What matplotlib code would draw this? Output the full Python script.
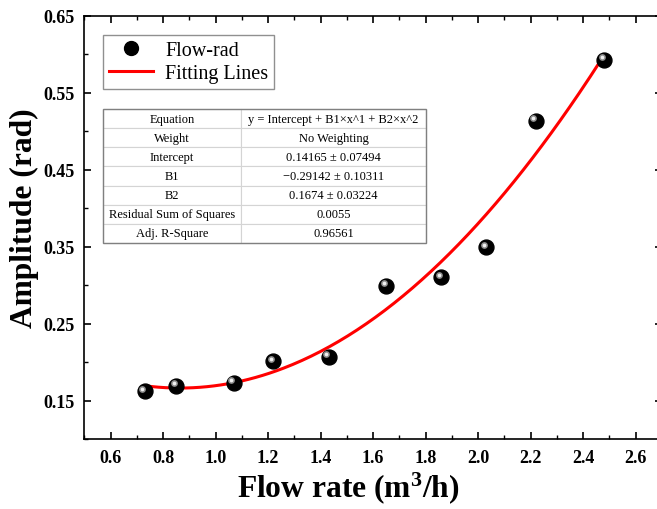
import numpy as np
import matplotlib
matplotlib.use("Agg")
import matplotlib.pyplot as plt
from matplotlib.ticker import MultipleLocator
from matplotlib.transforms import offset_copy
from matplotlib.patches import Rectangle
from matplotlib.lines import Line2D

plt.rcParams['font.family'] = ['Liberation Serif', 'DejaVu Serif']
plt.rcParams['mathtext.fontset'] = 'custom'
plt.rcParams['mathtext.rm'] = 'Liberation Serif'
plt.rcParams['mathtext.bf'] = 'Liberation Serif:bold'
plt.rcParams['mathtext.default'] = 'bf'

# Measured amplitude vs. flow rate
flow_rate = [0.73, 0.85, 1.07, 1.22, 1.43, 1.65, 1.86, 2.03, 2.22, 2.48]
amplitude = [0.162, 0.169, 0.173, 0.201, 0.207, 0.299, 0.310, 0.349, 0.514, 0.593]

# Fit report rows
fit_labels = ["Equation", "Weight", "Intercept", "B1", "B2",
              "Residual Sum of Squares", "Adj. R-Square"]
fit_values = ["y = Intercept + B1\u00d7x^1 + B2\u00d7x^2", "No Weighting",
              "0.14165 \u00b1 0.07494", "\u22120.29142 \u00b1 0.10311",
              "0.1674 \u00b1 0.03224", "0.0055", "0.96561"]

x_ticks = [0.6, 0.8, 1.0, 1.2, 1.4, 1.6, 1.8, 2.0, 2.2, 2.4, 2.6]
y_ticks = [0.15, 0.25, 0.35, 0.45, 0.55, 0.65]

fig = plt.figure(figsize=(6.57, 5.10), dpi=100)
ax = fig.add_axes([0.1283, 0.1373, 0.8793, 0.8294])

# quadratic fit drawn over the measured range
coef = np.polyfit(flow_rate, amplitude, 2)
xs = np.linspace(min(flow_rate), max(flow_rate), 200)
ax.plot(xs, np.polyval(coef, xs), color='red', lw=2.2, zorder=2)

# shaded "sphere" markers: black ball plus a soft highlight
ax.scatter(flow_rate, amplitude, s=115, color='black', zorder=3)
hl = offset_copy(ax.transData, fig=fig, x=-2.5, y=2.5, units='dots')
ax.scatter(flow_rate, amplitude, s=24, color='#8c8c8c', transform=hl,
           zorder=4, linewidths=0)
ax.scatter(flow_rate, amplitude, s=7, color='#f0f0f0', transform=hl,
           zorder=4, linewidths=0)

ax.set_xlim(0.5, 2.7)
ax.set_ylim(0.10, 0.65)
ax.set_xticks(x_ticks)
ax.set_yticks(y_ticks)
ax.xaxis.set_minor_locator(MultipleLocator(0.1))
ax.yaxis.set_minor_locator(MultipleLocator(0.05))
ax.tick_params(which='both', direction='in', top=True, right=True)
ax.tick_params(which='major', length=5, width=1.2, labelsize=13, pad=7)
ax.tick_params(which='minor', length=3, width=1.0)
for lab in ax.get_xticklabels() + ax.get_yticklabels():
    lab.set_fontweight('bold')
for sp in ax.spines.values():
    sp.set_linewidth(1.2)

ax.set_xlabel("Flow rate (m$^3$/h)", fontsize=22.7, fontweight='bold')
ax.set_ylabel("Amplitude (rad)", fontsize=22.7, fontweight='bold')
ax.xaxis.set_label_coords(0.4565, -0.071)
ax.yaxis.set_label_coords(-0.079, 0.5236)

handles = [Line2D([], [], marker='o', ls='none', color='black', markersize=10),
           Line2D([], [], color='red', lw=2.2)]
leg = ax.legend(handles, ["Flow-rad", "Fitting Lines"], loc='upper left',
                bbox_to_anchor=(0.032, 0.955), borderaxespad=0, fontsize=14.5,
                fancybox=False, edgecolor='#909090', framealpha=1,
                handlelength=2.2, handletextpad=0.6, borderpad=0.3,
                labelspacing=0.2)
leg.get_frame().set_linewidth(1.0)

# fit report table
cells = [[a, b] for a, b in zip(fit_labels, fit_values)]
x0, y0, w, h = 0.032, 0.4634, 0.5596, 0.3166
tbl = ax.table(cellText=cells, cellLoc='center', colWidths=[0.428, 0.572],
               bbox=[x0, y0, w, h], zorder=5)
tbl.auto_set_font_size(False)
for cell in tbl.get_celld().values():
    cell.set_edgecolor('#d4d4d4')
    cell.set_linewidth(0.8)
    cell.get_text().set_fontsize(9)
    cell.get_text().set_fontfamily('Liberation Serif')
ax.add_patch(Rectangle((x0, y0), w, h, transform=ax.transAxes, fill=False,
                       edgecolor='#808080', lw=1.0, zorder=6))

fig.savefig("out.png", dpi=100)
